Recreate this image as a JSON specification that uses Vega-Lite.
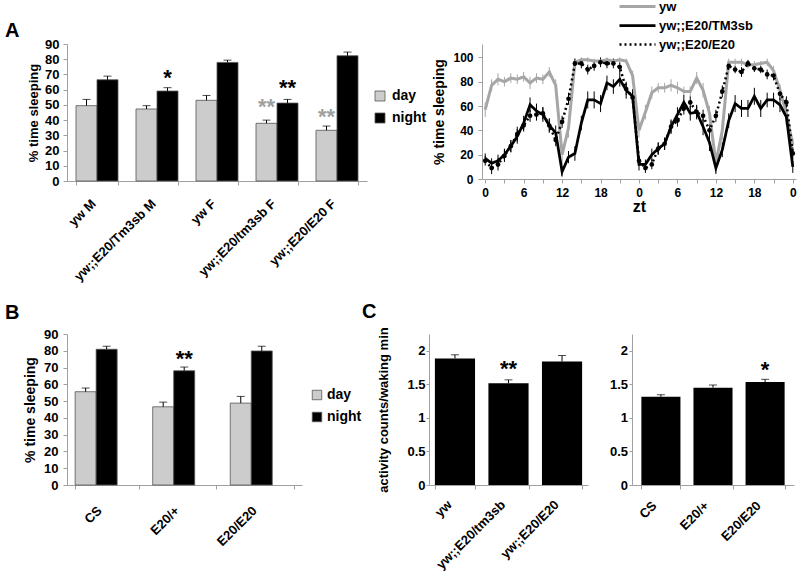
{
"$schema": "https://vega.github.io/schema/vega-lite/v6.json",
"background": "white",
"padding": {"left": 5, "top": 0, "right": 0, "bottom": 0},
"config": {
  "font": "Liberation Sans",
  "view": {"stroke": null},
  "axis": {"labelFont": "Liberation Sans", "labelFontWeight": "bold", "labelColor": "#000000", "labelFontSize": 13, "titleFont": "Liberation Sans", "titleFontWeight": "bold", "titleColor": "#000000", "domainColor": "#A0A0A0", "tickColor": "#A0A0A0", "grid": false, "tickSize": 4, "labelOverlap": false},
  "legend": {"labelFont": "Liberation Sans", "labelFontWeight": "bold", "labelColor": "#000000"},
  "title": {"font": "Liberation Sans", "fontWeight": "bold", "fontSize": 20, "color": "#000000", "anchor": "start"}
},
"datasets": {
  "abar": [
    {"g": "yw M", "p": "day", "v": 49.5, "t": 53.6},
    {"g": "yw M", "p": "night", "v": 66.5, "t": 68.9},
    {"g": "yw;;E20/Tm3sb M", "p": "day", "v": 47.3, "t": 49.5},
    {"g": "yw;;E20/Tm3sb M", "p": "night", "v": 59.1, "t": 61.3},
    {"g": "yw F", "p": "day", "v": 53, "t": 56.2},
    {"g": "yw F", "p": "night", "v": 77.9, "t": 79.4},
    {"g": "yw;;E20/tm3sb F", "p": "day", "v": 37.9, "t": 40},
    {"g": "yw;;E20/tm3sb F", "p": "night", "v": 51.2, "t": 53.6},
    {"g": "yw;;E20/E20 F", "p": "day", "v": 33.3, "t": 36.1},
    {"g": "yw;;E20/E20 F", "p": "night", "v": 82.3, "t": 84.7}
  ],
  "astar": [
    {"g": "yw;;E20/Tm3sb M", "p": "night", "y": 71, "s": "*"},
    {"g": "yw;;E20/tm3sb F", "p": "day", "y": 52, "s": "**"},
    {"g": "yw;;E20/tm3sb F", "p": "night", "y": 64.6, "s": "**"},
    {"g": "yw;;E20/E20 F", "p": "day", "y": 45.5, "s": "**"}
  ],
  "bbar": [
    {"g": "CS", "p": "day", "v": 55.6, "t": 57.8},
    {"g": "CS", "p": "night", "v": 80.9, "t": 82.7},
    {"g": "E20/+", "p": "day", "v": 46.6, "t": 49.4},
    {"g": "E20/+", "p": "night", "v": 68.1, "t": 70.3},
    {"g": "E20/E20", "p": "day", "v": 48.8, "t": 52.8},
    {"g": "E20/E20", "p": "night", "v": 79.9, "t": 82.7}
  ],
  "bstar": [
    {"g": "E20/+", "p": "night", "y": 78, "s": "**"}
  ],
  "cleft": [
    {"g": "yw", "v": 1.886, "t": 1.94},
    {"g": "yw;;E20/tm3sb", "v": 1.517, "t": 1.567},
    {"g": "yw;;E20/E20", "v": 1.84, "t": 1.93}
  ],
  "cleftstar": [
    {"g": "yw;;E20/tm3sb", "y": 1.8, "s": "**"}
  ],
  "cright": [
    {"g": "CS", "v": 1.315, "t": 1.345},
    {"g": "E20/+", "v": 1.45, "t": 1.49},
    {"g": "E20/E20", "v": 1.535, "t": 1.575}
  ],
  "crightstar": [
    {"g": "E20/E20", "y": 1.785, "s": "*"}
  ],
  "aline": [
    {"h":0,"s":"yw","v":57,"e":6},{"h":1,"s":"yw","v":77,"e":5},{"h":2,"s":"yw","v":82,"e":5},{"h":3,"s":"yw","v":80,"e":4},{"h":4,"s":"yw","v":83,"e":4},{"h":5,"s":"yw","v":82,"e":4},{"h":6,"s":"yw","v":84,"e":4},{"h":7,"s":"yw","v":79,"e":5},{"h":8,"s":"yw","v":83,"e":4},{"h":9,"s":"yw","v":82,"e":4},{"h":10,"s":"yw","v":88,"e":4},{"h":11,"s":"yw","v":77,"e":5},{"h":12,"s":"yw","v":20,"e":8},{"h":13,"s":"yw","v":42,"e":8},{"h":14,"s":"yw","v":96,"e":3},{"h":15,"s":"yw","v":98,"e":2},{"h":16,"s":"yw","v":98,"e":2},{"h":17,"s":"yw","v":97,"e":2},{"h":18,"s":"yw","v":97,"e":2},{"h":19,"s":"yw","v":98,"e":2},{"h":20,"s":"yw","v":97,"e":2},{"h":21,"s":"yw","v":98,"e":2},{"h":22,"s":"yw","v":97,"e":2},{"h":23,"s":"yw","v":85,"e":4},{"h":24,"s":"yw","v":40,"e":6},{"h":25,"s":"yw","v":55,"e":6},{"h":26,"s":"yw","v":71,"e":5},{"h":27,"s":"yw","v":75,"e":4},{"h":28,"s":"yw","v":75,"e":4},{"h":29,"s":"yw","v":77,"e":5},{"h":30,"s":"yw","v":75,"e":5},{"h":31,"s":"yw","v":72,"e":4},{"h":32,"s":"yw","v":72,"e":4},{"h":33,"s":"yw","v":83,"e":5},{"h":34,"s":"yw","v":73,"e":6},{"h":35,"s":"yw","v":54,"e":6},{"h":36,"s":"yw","v":13,"e":6},{"h":37,"s":"yw","v":40,"e":8},{"h":38,"s":"yw","v":96,"e":3},{"h":39,"s":"yw","v":96,"e":3},{"h":40,"s":"yw","v":96,"e":3},{"h":41,"s":"yw","v":94,"e":3},{"h":42,"s":"yw","v":94,"e":3},{"h":43,"s":"yw","v":95,"e":2},{"h":44,"s":"yw","v":96,"e":3},{"h":45,"s":"yw","v":89,"e":4},{"h":46,"s":"yw","v":73,"e":5},{"h":47,"s":"yw","v":54,"e":6},{"h":48,"s":"yw","v":28,"e":6},
    {"h":0,"s":"yw;;E20/TM3sb","v":17,"e":4},{"h":1,"s":"yw;;E20/TM3sb","v":13,"e":4},{"h":2,"s":"yw;;E20/TM3sb","v":15,"e":5},{"h":3,"s":"yw;;E20/TM3sb","v":20,"e":5},{"h":4,"s":"yw;;E20/TM3sb","v":27,"e":5},{"h":5,"s":"yw;;E20/TM3sb","v":35,"e":6},{"h":6,"s":"yw;;E20/TM3sb","v":46,"e":6},{"h":7,"s":"yw;;E20/TM3sb","v":61,"e":6},{"h":8,"s":"yw;;E20/TM3sb","v":56,"e":6},{"h":9,"s":"yw;;E20/TM3sb","v":53,"e":6},{"h":10,"s":"yw;;E20/TM3sb","v":44,"e":6},{"h":11,"s":"yw;;E20/TM3sb","v":38,"e":6},{"h":12,"s":"yw;;E20/TM3sb","v":6,"e":4},{"h":13,"s":"yw;;E20/TM3sb","v":18,"e":5},{"h":14,"s":"yw;;E20/TM3sb","v":21,"e":6},{"h":15,"s":"yw;;E20/TM3sb","v":46,"e":6},{"h":16,"s":"yw;;E20/TM3sb","v":65,"e":7},{"h":17,"s":"yw;;E20/TM3sb","v":65,"e":7},{"h":18,"s":"yw;;E20/TM3sb","v":62,"e":7},{"h":19,"s":"yw;;E20/TM3sb","v":79,"e":6},{"h":20,"s":"yw;;E20/TM3sb","v":76,"e":6},{"h":21,"s":"yw;;E20/TM3sb","v":82,"e":6},{"h":22,"s":"yw;;E20/TM3sb","v":73,"e":7},{"h":23,"s":"yw;;E20/TM3sb","v":68,"e":6},{"h":24,"s":"yw;;E20/TM3sb","v":12,"e":5},{"h":25,"s":"yw;;E20/TM3sb","v":12,"e":4},{"h":26,"s":"yw;;E20/TM3sb","v":20,"e":5},{"h":27,"s":"yw;;E20/TM3sb","v":25,"e":5},{"h":28,"s":"yw;;E20/TM3sb","v":29,"e":5},{"h":29,"s":"yw;;E20/TM3sb","v":43,"e":6},{"h":30,"s":"yw;;E20/TM3sb","v":53,"e":6},{"h":31,"s":"yw;;E20/TM3sb","v":63,"e":6},{"h":32,"s":"yw;;E20/TM3sb","v":54,"e":6},{"h":33,"s":"yw;;E20/TM3sb","v":55,"e":6},{"h":34,"s":"yw;;E20/TM3sb","v":43,"e":7},{"h":35,"s":"yw;;E20/TM3sb","v":30,"e":7},{"h":36,"s":"yw;;E20/TM3sb","v":9,"e":5},{"h":37,"s":"yw;;E20/TM3sb","v":24,"e":6},{"h":38,"s":"yw;;E20/TM3sb","v":48,"e":6},{"h":39,"s":"yw;;E20/TM3sb","v":62,"e":7},{"h":40,"s":"yw;;E20/TM3sb","v":58,"e":7},{"h":41,"s":"yw;;E20/TM3sb","v":58,"e":7},{"h":42,"s":"yw;;E20/TM3sb","v":68,"e":7},{"h":43,"s":"yw;;E20/TM3sb","v":58,"e":7},{"h":44,"s":"yw;;E20/TM3sb","v":65,"e":6},{"h":45,"s":"yw;;E20/TM3sb","v":65,"e":6},{"h":46,"s":"yw;;E20/TM3sb","v":61,"e":6},{"h":47,"s":"yw;;E20/TM3sb","v":51,"e":6},{"h":48,"s":"yw;;E20/TM3sb","v":10,"e":5},
    {"h":0,"s":"yw;;E20/E20","v":15,"e":4},{"h":1,"s":"yw;;E20/E20","v":9,"e":5},{"h":2,"s":"yw;;E20/E20","v":12,"e":5},{"h":3,"s":"yw;;E20/E20","v":19,"e":5},{"h":4,"s":"yw;;E20/E20","v":27,"e":5},{"h":5,"s":"yw;;E20/E20","v":37,"e":6},{"h":6,"s":"yw;;E20/E20","v":44,"e":5},{"h":7,"s":"yw;;E20/E20","v":52,"e":5},{"h":8,"s":"yw;;E20/E20","v":53,"e":5},{"h":9,"s":"yw;;E20/E20","v":54,"e":5},{"h":10,"s":"yw;;E20/E20","v":44,"e":5},{"h":11,"s":"yw;;E20/E20","v":32,"e":5},{"h":12,"s":"yw;;E20/E20","v":47,"e":5},{"h":13,"s":"yw;;E20/E20","v":66,"e":5},{"h":14,"s":"yw;;E20/E20","v":95,"e":4},{"h":15,"s":"yw;;E20/E20","v":95,"e":4},{"h":16,"s":"yw;;E20/E20","v":90,"e":4},{"h":17,"s":"yw;;E20/E20","v":93,"e":4},{"h":18,"s":"yw;;E20/E20","v":96,"e":4},{"h":19,"s":"yw;;E20/E20","v":95,"e":4},{"h":20,"s":"yw;;E20/E20","v":95,"e":4},{"h":21,"s":"yw;;E20/E20","v":92,"e":4},{"h":22,"s":"yw;;E20/E20","v":74,"e":5},{"h":23,"s":"yw;;E20/E20","v":67,"e":5},{"h":24,"s":"yw;;E20/E20","v":15,"e":4},{"h":25,"s":"yw;;E20/E20","v":9,"e":4},{"h":26,"s":"yw;;E20/E20","v":12,"e":4},{"h":27,"s":"yw;;E20/E20","v":25,"e":5},{"h":28,"s":"yw;;E20/E20","v":29,"e":5},{"h":29,"s":"yw;;E20/E20","v":43,"e":5},{"h":30,"s":"yw;;E20/E20","v":48,"e":5},{"h":31,"s":"yw;;E20/E20","v":58,"e":5},{"h":32,"s":"yw;;E20/E20","v":63,"e":5},{"h":33,"s":"yw;;E20/E20","v":55,"e":5},{"h":34,"s":"yw;;E20/E20","v":52,"e":5},{"h":35,"s":"yw;;E20/E20","v":40,"e":5},{"h":36,"s":"yw;;E20/E20","v":52,"e":5},{"h":37,"s":"yw;;E20/E20","v":72,"e":5},{"h":38,"s":"yw;;E20/E20","v":93,"e":3},{"h":39,"s":"yw;;E20/E20","v":90,"e":3},{"h":40,"s":"yw;;E20/E20","v":88,"e":4},{"h":41,"s":"yw;;E20/E20","v":95,"e":3},{"h":42,"s":"yw;;E20/E20","v":91,"e":3},{"h":43,"s":"yw;;E20/E20","v":90,"e":3},{"h":44,"s":"yw;;E20/E20","v":86,"e":4},{"h":45,"s":"yw;;E20/E20","v":85,"e":4},{"h":46,"s":"yw;;E20/E20","v":70,"e":5},{"h":47,"s":"yw;;E20/E20","v":63,"e":5},{"h":48,"s":"yw;;E20/E20","v":21,"e":5}
  ]
},
"resolve": {"scale": {"color": "independent", "strokeDash": "independent", "strokeWidth": "independent"}, "legend": {"color": "independent", "strokeDash": "independent"}},
"spacing": 17,
"vconcat": [
 {
  "hconcat": [
  {
    "width": 300, "height": 137,
    "title": {"text": "A", "dx": -62, "dy": 3, "offset": 0, "frame": "group"},
    "encoding": {
      "x": {"field": "g", "type": "nominal", "title": null,
        "scale": {"domain": ["yw M", "yw;;E20/Tm3sb M", "yw F", "yw;;E20/tm3sb F", "yw;;E20/E20 F"], "paddingInner": 0.3, "paddingOuter": 0.15},
        "axis": {"labelAngle": -45, "labelAlign": "right", "labelBaseline": "top", "labelPadding": 12, "labelOffset": -8, "tickBand": "extent", "labelFontSize": 13}},
      "xOffset": {"field": "p", "type": "nominal", "scale": {"domain": ["day", "night"]}}
    },
    "layer": [
      {"data": {"name": "abar"}, "mark": {"type": "bar", "stroke": "#555555", "strokeWidth": 0.8},
       "encoding": {
         "y": {"field": "v", "type": "quantitative", "title": "% time sleeping", "scale": {"domain": [0, 90], "nice": false},
               "axis": {"values": [0,10,20,30,40,50,60,70,80,90], "labelOverlap": false, "titleFontSize": 13, "labelPadding": 4, "titlePadding": 4}},
         "color": {"field": "p", "type": "nominal", "scale": {"domain": ["day", "night"], "range": ["#CCCCCC", "#000000"]},
               "legend": {"title": null, "orient": "none", "legendX": 306, "legendY": 45, "symbolType": "square", "symbolSize": 100, "symbolStrokeColor": "#555555", "symbolStrokeWidth": 0.8, "labelFontSize": 14, "rowPadding": 8, "labelOffset": 5}}
       }},
      {"data": {"name": "abar"}, "mark": {"type": "rule", "color": "#000000"},
       "encoding": {"y": {"field": "v", "type": "quantitative", "title": "% time sleeping", "axis": {"values": [0,10,20,30,40,50,60,70,80,90], "labelOverlap": false, "titleFontSize": 13, "labelPadding": 4, "titlePadding": 4}}, "y2": {"field": "t"}}},
      {"data": {"name": "abar"}, "mark": {"type": "tick", "color": "#000000", "size": 8, "thickness": 1},
       "encoding": {"y": {"field": "t", "type": "quantitative", "title": "% time sleeping", "axis": {"values": [0,10,20,30,40,50,60,70,80,90], "labelOverlap": false, "titleFontSize": 13, "labelPadding": 4, "titlePadding": 4}}}},
      {"data": {"name": "astar"}, "transform": [{"filter": "datum.p == 'day'"}],
       "mark": {"type": "text", "color": "#A0A0A0", "fontSize": 22, "fontWeight": "bold", "baseline": "middle", "dy": 5},
       "encoding": {"y": {"field": "y", "type": "quantitative", "title": "% time sleeping", "axis": {"values": [0,10,20,30,40,50,60,70,80,90], "labelOverlap": false, "titleFontSize": 13, "labelPadding": 4, "titlePadding": 4}}, "text": {"field": "s"}}},
      {"data": {"name": "astar"}, "transform": [{"filter": "datum.p == 'night'"}],
       "mark": {"type": "text", "color": "#000000", "fontSize": 22, "fontWeight": "bold", "baseline": "middle", "dy": 5},
       "encoding": {"y": {"field": "y", "type": "quantitative", "title": "% time sleeping", "axis": {"values": [0,10,20,30,40,50,60,70,80,90], "labelOverlap": false, "titleFontSize": 13, "labelPadding": 4, "titlePadding": 4}}, "text": {"field": "s"}}}
    ]
  },
  {
    "width": 314, "height": 135,
    "data": {"name": "aline"},
    "encoding": {
      "x": {"field": "h", "type": "quantitative", "title": "zt", "scale": {"domain": [-0.5, 48.5], "nice": false, "zero": false},
            "axis": {"values": [0,3,6,9,12,15,18,21,24,27,30,33,36,39,42,45,48], "labelExpr": "datum.value % 6 == 0 ? '' + (datum.value % 24) : ''", "labelFontSize": 12, "titleFontSize": 16, "titlePadding": 0, "labelPadding": 4, "labelFlush": false}},
      "y": {"field": "v", "type": "quantitative", "title": "% time sleeping", "scale": {"domain": [0, 111], "nice": false},
            "axis": {"values": [0,20,40,60,80,100], "labelFontSize": 12, "titleFontSize": 14, "labelPadding": 5, "titlePadding": 6}},
      "color": {"field": "s", "type": "nominal", "scale": {"domain": ["yw", "yw;;E20/TM3sb", "yw;;E20/E20"], "range": ["#A6A6A6", "#000000", "#000000"]},
            "legend": {"title": null, "orient": "none", "legendX": 136, "legendY": -44, "symbolType": "stroke", "symbolSize": 1296, "symbolStrokeWidth": 2.5, "labelFontSize": 13, "rowPadding": 5, "labelOffset": 2, "clipHeight": 13}}
    },
    "layer": [
      {"mark": {"type": "errorbar", "thickness": 1}, "encoding": {"yError": {"field": "e"}}},
      {"mark": {"type": "line"},
       "encoding": {
         "strokeDash": {"field": "s", "type": "nominal", "scale": {"domain": ["yw", "yw;;E20/TM3sb", "yw;;E20/E20"], "range": [[1, 0], [1, 0], [2, 3]]},
            "legend": {"title": null, "orient": "none", "legendX": 136, "legendY": -44, "symbolType": "stroke", "symbolSize": 1296, "symbolStrokeWidth": 2.5, "labelFontSize": 13, "rowPadding": 5, "labelOffset": 2, "clipHeight": 13}},
         "strokeWidth": {"field": "s", "type": "nominal", "scale": {"domain": ["yw", "yw;;E20/TM3sb", "yw;;E20/E20"], "range": [3, 2.5, 1.2]}, "legend": null}
       }},
      {"transform": [{"filter": "datum.s == 'yw;;E20/E20'"}], "mark": {"type": "point", "filled": true, "size": 22, "opacity": 1},
       "encoding": {"color": {"value": "#000000"}}}
    ]
  }
  ],
  "bounds": "flush",
  "spacing": 115,
  "resolve": {"scale": {"color": "independent", "strokeDash": "independent", "strokeWidth": "independent"}, "legend": {"color": "independent", "strokeDash": "independent"}}
 },
 {
  "hconcat": [
  {
    "width": 235, "height": 151,
    "title": {"text": "B", "dx": -62, "dy": -5, "offset": 0, "frame": "group"},
    "encoding": {
      "x": {"field": "g", "type": "nominal", "title": null,
        "scale": {"domain": ["CS", "E20/+", "E20/E20"], "paddingInner": 0.18, "paddingOuter": 0.105},
        "axis": {"labelAngle": -45, "labelAlign": "right", "labelBaseline": "top", "labelPadding": 15, "labelOffset": -12, "tickBand": "extent", "labelFontSize": 13}},
      "xOffset": {"field": "p", "type": "nominal", "scale": {"domain": ["day", "night"]}}
    },
    "layer": [
      {"data": {"name": "bbar"}, "mark": {"type": "bar", "stroke": "#555555", "strokeWidth": 0.8},
       "encoding": {
         "y": {"field": "v", "type": "quantitative", "title": "% time sleeping", "scale": {"domain": [0, 90], "nice": false},
               "axis": {"values": [0,10,20,30,40,50,60,70,80,90], "labelOverlap": false, "titleFontSize": 14, "labelPadding": 5, "titlePadding": 6}},
         "color": {"field": "p", "type": "nominal", "scale": {"domain": ["day", "night"], "range": ["#CCCCCC", "#000000"]},
               "legend": {"title": null, "orient": "none", "legendX": 243, "legendY": 54, "symbolType": "square", "symbolSize": 90, "symbolStrokeColor": "#555555", "symbolStrokeWidth": 0.8, "labelFontSize": 14, "rowPadding": 8, "labelOffset": 3}}
       }},
      {"data": {"name": "bbar"}, "mark": {"type": "rule", "color": "#000000"},
       "encoding": {"y": {"field": "v", "type": "quantitative", "title": "% time sleeping", "axis": {"values": [0,10,20,30,40,50,60,70,80,90], "labelOverlap": false, "titleFontSize": 14, "labelPadding": 5, "titlePadding": 6}}, "y2": {"field": "t"}}},
      {"data": {"name": "bbar"}, "mark": {"type": "tick", "color": "#000000", "size": 8, "thickness": 1},
       "encoding": {"y": {"field": "t", "type": "quantitative", "title": "% time sleeping", "axis": {"values": [0,10,20,30,40,50,60,70,80,90], "labelOverlap": false, "titleFontSize": 14, "labelPadding": 5, "titlePadding": 6}}}},
      {"data": {"name": "bstar"},
       "mark": {"type": "text", "color": "#000000", "fontSize": 22, "fontWeight": "bold", "baseline": "middle", "dy": 5},
       "encoding": {"y": {"field": "y", "type": "quantitative", "title": "% time sleeping", "axis": {"values": [0,10,20,30,40,50,60,70,80,90], "labelOverlap": false, "titleFontSize": 14, "labelPadding": 5, "titlePadding": 6}}, "text": {"field": "s"}}}
    ]
  },
  {"data": {"values": [{}]}, "mark": {"type": "point", "opacity": 0}, "width": 127, "height": 1},
  {
    "width": 159, "height": 151,
    "title": {"text": "C", "dx": -67, "dy": -5, "offset": 0, "frame": "group"},
    "encoding": {
      "x": {"field": "g", "type": "nominal", "title": null,
        "scale": {"domain": ["yw", "yw;;E20/tm3sb", "yw;;E20/E20"], "paddingInner": 0.25, "paddingOuter": 0.11},
        "axis": {"labelAngle": -45, "labelAlign": "right", "labelBaseline": "top", "labelPadding": 9, "labelOffset": -10, "tickBand": "extent", "labelFontSize": 13}}
    },
    "layer": [
      {"data": {"name": "cleft"}, "mark": {"type": "bar", "color": "#000000"},
       "encoding": {
         "y": {"field": "v", "type": "quantitative", "title": "activity counts/waking min", "scale": {"domain": [0, 2.25], "nice": false},
               "axis": {"values": [0, 0.5, 1, 1.5, 2], "labelOverlap": false, "format": "~g", "tickSize": 3, "labelPadding": 1, "titleFontSize": 13, "titlePadding": 16}}
       }},
      {"data": {"name": "cleft"}, "mark": {"type": "rule", "color": "#000000"},
       "encoding": {"y": {"field": "v", "type": "quantitative", "title": "activity counts/waking min", "axis": {"values": [0, 0.5, 1, 1.5, 2], "labelOverlap": false, "format": "~g", "tickSize": 3, "labelPadding": 1, "titleFontSize": 13, "titlePadding": 16}}, "y2": {"field": "t"}}},
      {"data": {"name": "cleft"}, "mark": {"type": "tick", "color": "#000000", "size": 8, "thickness": 1},
       "encoding": {"y": {"field": "t", "type": "quantitative", "title": "activity counts/waking min", "axis": {"values": [0, 0.5, 1, 1.5, 2], "labelOverlap": false, "format": "~g", "tickSize": 3, "labelPadding": 1, "titleFontSize": 13, "titlePadding": 16}}}},
      {"data": {"name": "cleftstar"},
       "mark": {"type": "text", "color": "#000000", "fontSize": 22, "fontWeight": "bold", "baseline": "middle", "dy": 5},
       "encoding": {"y": {"field": "y", "type": "quantitative", "title": "activity counts/waking min", "axis": {"values": [0, 0.5, 1, 1.5, 2], "labelOverlap": false, "format": "~g", "tickSize": 3, "labelPadding": 1, "titleFontSize": 13, "titlePadding": 16}}, "text": {"field": "s"}}}
    ]
  },
  {"data": {"values": [{}]}, "mark": {"type": "point", "opacity": 0}, "width": 44, "height": 1},
  {
    "width": 162, "height": 151,
    "encoding": {
      "x": {"field": "g", "type": "nominal", "title": null,
        "scale": {"domain": ["CS", "E20/+", "E20/E20"], "paddingInner": 0.25, "paddingOuter": 0.18},
        "axis": {"labelAngle": -45, "labelAlign": "right", "labelBaseline": "top", "labelPadding": 10, "labelOffset": -11, "tickBand": "extent", "labelFontSize": 13}}
    },
    "layer": [
      {"data": {"name": "cright"}, "mark": {"type": "bar", "color": "#000000"},
       "encoding": {
         "y": {"field": "v", "type": "quantitative", "title": null, "scale": {"domain": [0, 2.25], "nice": false},
               "axis": {"values": [0, 0.5, 1, 1.5, 2], "labelOverlap": false, "format": "~g", "tickSize": 3, "labelPadding": 1.5}}
       }},
      {"data": {"name": "cright"}, "mark": {"type": "rule", "color": "#000000"},
       "encoding": {"y": {"field": "v", "type": "quantitative", "title": null, "axis": {"values": [0, 0.5, 1, 1.5, 2], "labelOverlap": false, "format": "~g", "tickSize": 3, "labelPadding": 1.5}}, "y2": {"field": "t"}}},
      {"data": {"name": "cright"}, "mark": {"type": "tick", "color": "#000000", "size": 8, "thickness": 1},
       "encoding": {"y": {"field": "t", "type": "quantitative", "title": null, "axis": {"values": [0, 0.5, 1, 1.5, 2], "labelOverlap": false, "format": "~g", "tickSize": 3, "labelPadding": 1.5}}}},
      {"data": {"name": "crightstar"},
       "mark": {"type": "text", "color": "#000000", "fontSize": 22, "fontWeight": "bold", "baseline": "middle", "dy": 5},
       "encoding": {"y": {"field": "y", "type": "quantitative", "title": null, "axis": {"values": [0, 0.5, 1, 1.5, 2], "labelOverlap": false, "format": "~g", "tickSize": 3, "labelPadding": 1.5}}, "text": {"field": "s"}}}
    ]
  }
  ],
  "bounds": "flush",
  "spacing": 0,
  "resolve": {"scale": {"color": "independent"}, "legend": {"color": "independent"}}
 }
]
}
